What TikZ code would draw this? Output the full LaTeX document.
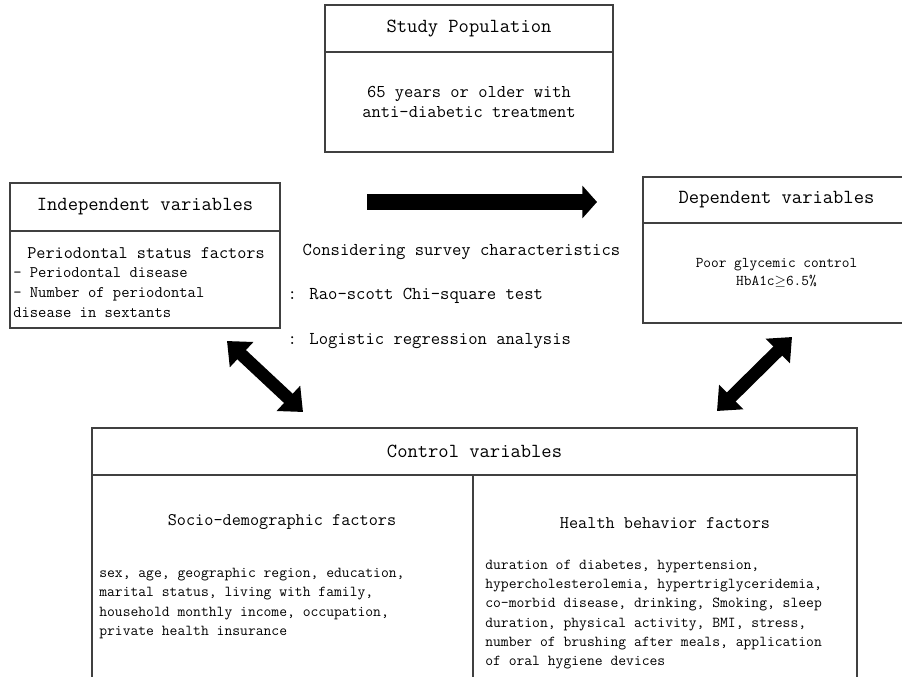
\documentclass[tikz,border=0pt]{standalone}
\usepackage{fontspec}
\renewcommand{\familydefault}{\ttdefault}
\usetikzlibrary{arrows.meta}

\begin{document}
\begin{tikzpicture}[x=0.75pt,y=-0.75pt,
  box/.style={draw=black!75,line width=0.9pt,inner sep=0pt},
  ttl/.style={font=\fontsize{15}{17}\selectfont},
  sub/.style={font=\fontsize{13.3}{15}\selectfont},
  lst/.style={font=\fontsize{11.4}{14.5}\selectfont,align=left,inner sep=0pt},
  fat/.style={line width=12pt,-{Triangle[length=11pt,width=24pt]}},
  dbl/.style={line width=9.5pt,{Triangle[length=15pt,width=25pt]}-{Triangle[length=15pt,width=25pt]}}]
\useasboundingbox (0,0) rectangle (902,677);
\clip (0,0) rectangle (902,677);
% Study population
\node[box,ttl,minimum width=216pt,minimum height=35.25pt] (sph) at (469,28.5) {Study Population};
\node[box,align=center,minimum width=216pt,minimum height=75pt,
  font=\fontsize{13.5}{15}\selectfont] (spb) at (469,102) {65 years or older with\\anti-diabetic treatment};
% Independent variables
\node[box,ttl,minimum width=202.5pt,minimum height=36pt] (indh) at (145,207) {Independent variables};
\node[box,minimum width=202.5pt,minimum height=72.75pt] (indb) at (145,279.5) {};
\node[sub] (pst) at (146,253) {Periodontal status factors};
\node[lst,anchor=west,font=\fontsize{12.1}{15}\selectfont] (psl) at (13,293)
  {- Periodontal disease\\- Number of periodontal\\disease in sextants};
% Dependent variables
\node[box,ttl,minimum width=200.25pt,minimum height=34.5pt] (deph) at (776.5,200) {Dependent variables};
\node[box,align=center,minimum width=200.25pt,minimum height=75pt,
  font=\fontsize{11.2}{14}\selectfont] (depb) at (776.5,273) {Poor glycemic control\\HbA1c$\geq$6.5\%};
% Analysis
\node[sub,anchor=west,font=\fontsize{13.6}{15}\selectfont] (m1) at (298,252) {Considering survey characteristics};
\node[sub,anchor=west,font=\fontsize{13.6}{15}\selectfont] (m2) at (283,296) {: Rao-scott Chi-square test};
\node[sub,anchor=west,font=\fontsize{13.6}{15}\selectfont] (m3) at (283,341) {: Logistic regression analysis};
% Control variables
\node[box,ttl,minimum width=573.75pt,minimum height=35.25pt] (ctlh) at (474.5,451.5) {Control variables};
\node[box,minimum width=285.75pt,minimum height=168.75pt] (ctll) at (282.5,587.5) {};
\node[box,minimum width=288pt,minimum height=168.75pt] (ctlr) at (665,587.5) {};
\node[sub] (sdt) at (282,522) {Socio-demographic factors};
\node[lst,anchor=west] (sdl) at (99,603.5)
  {sex, age, geographic region, education,\\marital status, living with family,\\household monthly income, occupation,\\private health insurance};
\node[sub] (hbt) at (665,523) {Health behavior factors};
\node[lst,anchor=west] (hbl) at (485,614.5)
  {duration of diabetes, hypertension,\\hypercholesterolemia, hypertriglyceridemia,\\co-morbid disease, drinking, Smoking, sleep\\duration, physical activity, BMI, stress,\\number of brushing after meals, application\\of oral hygiene devices};
% Arrows
\coordinate (a1) at (367,202);
\coordinate (a2) at (597,202);
\coordinate (b1) at (227,341);
\coordinate (b2) at (303,412);
\coordinate (c1) at (717,411);
\coordinate (c2) at (792,337);
\draw[fat] (a1) -- (a2);
\draw[dbl] (b1) -- (b2);
\draw[dbl] (c1) -- (c2);
\end{tikzpicture}
\end{document}
